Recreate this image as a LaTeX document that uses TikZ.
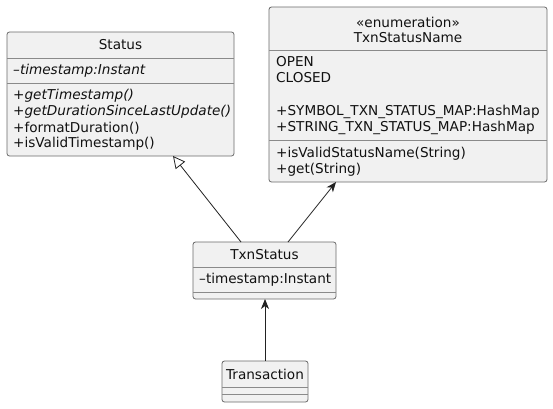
\documentclass[tikz,border=0pt]{standalone}
\usepackage{fontspec}
\setmainfont{DejaVu Sans}
\usetikzlibrary{arrows.meta,calc}
\definecolor{boxfill}{HTML}{F1F1F1}
\definecolor{boxline}{HTML}{6A6A6A}
\definecolor{sepline}{HTML}{8A8A8A}
\definecolor{arrowline}{HTML}{222222}
\definecolor{textcol}{HTML}{111111}
\begin{document}
\begin{tikzpicture}[x=1pt,y=-1pt,
  classbox/.style={draw=boxline, fill=boxfill, rounded corners=2.5pt, line width=0.8pt, inner sep=0pt, outer sep=0pt},
  sepl/.style={draw=sepline, line width=0.8pt},
  txt/.style={anchor=west, inner sep=0pt, text=textcol, font=\fontsize{13.6}{16}\selectfont},
  ctxt/.style={anchor=center, inner sep=0pt, text=textcol, font=\fontsize{13.6}{16}\selectfont},
  assoc/.style={draw=arrowline, line width=0.8pt, -{Stealth[length=10pt,width=8pt,inset=3pt]}},
  gen/.style={draw=arrowline, line width=0.8pt, -{Triangle[open,length=12pt,width=12pt,fill=white]}}]
\useasboundingbox[fill=white] (0,0) rectangle (553,408);

% Status
\node[classbox, minimum width=227pt, minimum height=124pt] (status) at (120.5,94) {};
\draw[sepl] (7,58) -- (234,58);
\draw[sepl] (7,83) -- (234,83);
\node[ctxt] (statusT) at (120.5,45) {Status};
\node[txt] (s1) at (13,71) {\itshape –timestamp:Instant};
\node[txt] (s2) at (13,96) {\itshape +getTimestamp()};
\node[txt] (s3) at (13,112) {\itshape +getDurationSinceLastUpdate()};
\node[txt] (s4) at (13,128) {+formatDuration()};
\node[txt] (s5) at (13,144) {+isValidTimestamp()};

% TxnStatusName
\node[classbox, minimum width=278pt, minimum height=175pt] (enum) at (408,94.5) {};
\draw[sepl] (269,50) -- (547,50);
\draw[sepl] (269,140) -- (547,140);
\node[ctxt] (enumS) at (408,22) {«enumeration»};
\node[ctxt] (enumT) at (408,38) {TxnStatusName};
\node[txt] (e1) at (276,62) {OPEN};
\node[txt] (e2) at (276,78) {CLOSED};
\node[txt] (e3) at (276,112) {+SYMBOL\_TXN\_STATUS\_MAP:HashMap};
\node[txt] (e4) at (276,128) {+STRING\_TXN\_STATUS\_MAP:HashMap};
\node[txt] (e5) at (276,154) {+isValidStatusName(String)};
\node[txt] (e6) at (276,170) {+get(String)};

% TxnStatus
\node[classbox, minimum width=143pt, minimum height=57pt] (txn) at (264.5,270.5) {};
\draw[sepl] (193,267) -- (336,267);
\draw[sepl] (193,292) -- (336,292);
\node[ctxt] (txnT) at (264.5,255) {TxnStatus};
\node[txt] (t1) at (199,280) {–timestamp:Instant};

% Transaction
\node[classbox, minimum width=86pt, minimum height=41pt] (trans) at (265,381.5) {};
\draw[sepl] (222,387) -- (308,387);
\draw[sepl] (222,394) -- (308,394);
\node[ctxt] (transT) at (265,374) {Transaction};

% connectors
\draw[gen] ($(txn.north)+(-23.5,0)$) -- ($(status.south)+(52.5,0)$);
\draw[assoc] ($(txn.north)+(23.5,0)$) -- ($(enum.south)+(-72,0)$);
\draw[assoc] (trans.north) -- (trans.north |- txn.south);
\end{tikzpicture}
\end{document}
